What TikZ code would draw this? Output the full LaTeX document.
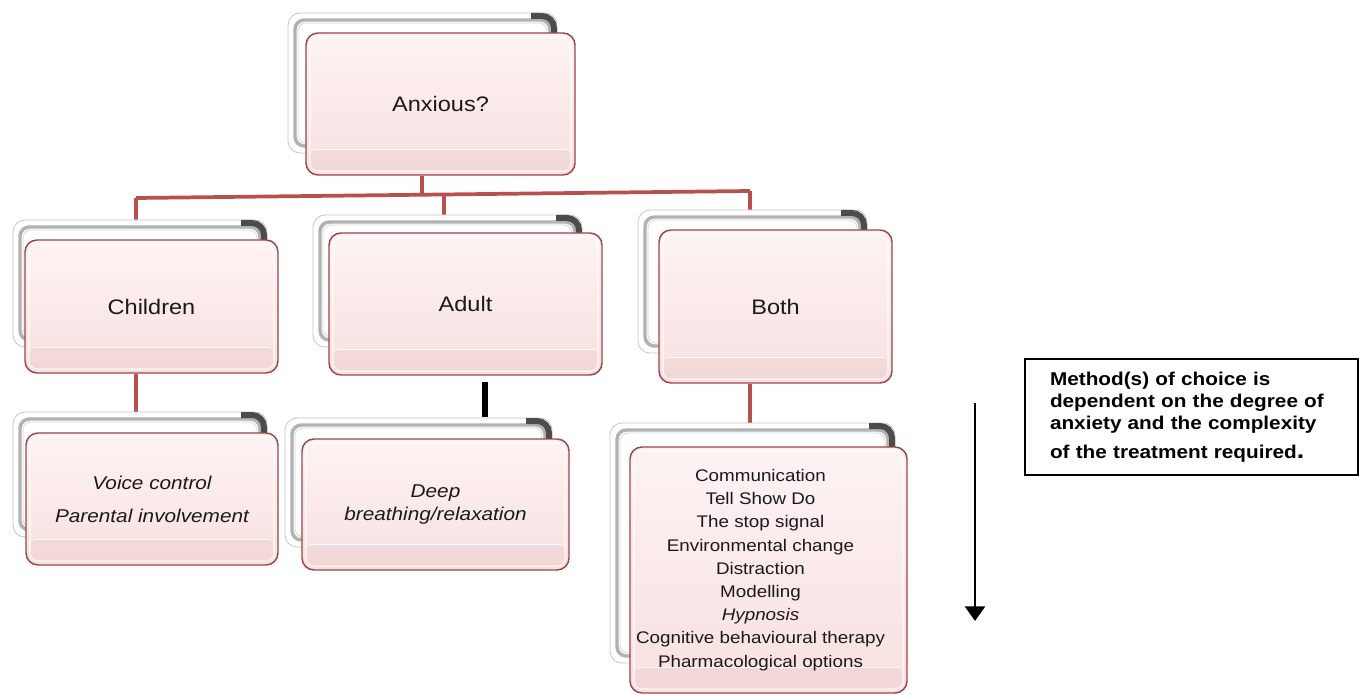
\documentclass[tikz,border=0pt]{standalone}
\usepackage{fontspec}
\setmainfont{Liberation Sans}[FakeStretch=1.12]
\usetikzlibrary{arrows.meta}
\pgfdeclarelayer{paper}
\pgfdeclarelayer{links}
\pgfsetlayers{paper,links,main}

\definecolor{cardtop}{HTML}{FDF3F3}
\definecolor{cardbot}{HTML}{F8E0E0}
\definecolor{cardedge}{HTML}{9E4446}
\definecolor{linkred}{HTML}{B7514E}
\definecolor{ink}{HTML}{1A1A1A}

\newcommand\labelfont{\fontsize{15.75pt}{18pt}\selectfont}
\newcommand\voicefont{\fontsize{13.9pt}{24.75pt}\selectfont\itshape}
\newcommand\deepfont{\fontsize{13.9pt}{17.25pt}\selectfont\itshape}
\newcommand\listfont{\fontsize{12.6pt}{17.4pt}\selectfont}
\newcommand\notefont{\fontsize{13.9pt}{16.5pt}\selectfont\bfseries}

% grey stacked frame drawn behind each card (coordinates in px units)
\newcommand\backframe[4]{%
  \filldraw[fill=white, draw=gray!45, line width=0.6pt, rounded corners=9pt]
    (#1,#2) rectangle (#3,#4);
  \draw[gray!60, line width=2.6pt, rounded corners=7pt]
    ({#1+7},{#2+7}) rectangle ({#3-7},{#4-7});
  \draw[gray!30, line width=0.6pt, rounded corners=6pt]
    ({#1+10},{#2+10}) rectangle ({#3-10},{#4-10});
  \begin{scope}
    \clip ({#3-26},{#2-3}) rectangle ({#3+3},{#2+34});
    \draw[black!70, line width=4.5pt, rounded corners=9pt]
      ({#1+3},{#2+3}) rectangle ({#3-3},{#4-3});
  \end{scope}
}

\tikzset{
  card/.style={rectangle, rounded corners=9pt, draw=cardedge, line width=1.1pt,
    top color=cardtop, bottom color=cardbot, inner sep=0pt, align=center,
    text=ink, font=\labelfont,
    path picture={
      \fill[cardedge, opacity=0.06, rounded corners=6pt]
        ([shift={(3pt,3pt)}]path picture bounding box.south west) rectangle
        ([shift={(-3pt,19pt)}]path picture bounding box.south east);
      \draw[white, opacity=0.8, line width=0.8pt, rounded corners=6pt]
        ([shift={(3pt,3pt)}]path picture bounding box.south west) rectangle
        ([shift={(-3pt,-3pt)}]path picture bounding box.north east);
      \draw[white, opacity=0.9, line width=0.8pt]
        ([shift={(6pt,19pt)}]path picture bounding box.south west) --
        ([shift={(-6pt,19pt)}]path picture bounding box.south east);
    }},
  link/.style={linkred, line width=2.8pt},
  notebox/.style={rectangle, draw=black, line width=1.1pt, font=\notefont,
    align=left, text=black},
}

\begin{document}
\begin{tikzpicture}[x=0.75pt, y=-0.75pt]
\begin{pgfonlayer}{paper}
  \fill[white] (0,0) rectangle (1360,695);
\end{pgfonlayer}
\useasboundingbox (0,0) rectangle (1360,695);

% frames behind the cards
\backframe{288}{13}{557}{153}
\backframe{13}{220}{267}{347}
\backframe{313}{215}{582}{347}
\backframe{638}{210}{867}{353}
\backframe{13}{412}{267}{537}
\backframe{285}{418}{552}{547}
\backframe{610}{423}{895}{663}

% cards
\node[card, minimum width=201.75pt, minimum height=106.5pt] (anx) at (440.5,104) {Anxious?};
\node[card, minimum width=189.75pt, minimum height=99.75pt] (chi) at (151.5,306.5) {Children};
\node[card, minimum width=204.75pt, minimum height=106.5pt] (adu) at (465.5,304) {Adult};
\node[card, minimum width=174.75pt, minimum height=114.75pt] (bot) at (775.5,306.5) {Both};
\node[card, minimum width=189pt, minimum height=99pt, font=\voicefont] (voice) at (152,499)
  {Voice control\\Parental involvement};
\node[card, minimum width=200.25pt, minimum height=98.25pt, font=\deepfont] (deep) at (435.5,504.5)
  {\raisebox{-7pt}{\parbox{190pt}{\centering Deep\\breathing/relaxation}}};
\node[card, minimum width=207.75pt, minimum height=184.5pt, font=\listfont] (list) at (768.5,570)
  {\hspace*{-12pt}\parbox{200pt}{\centering Communication\\Tell Show Do\\The stop signal\\
   Environmental change\\Distraction\\Modelling\\\textit{Hypnosis}\\
   Cognitive behavioural therapy\\Pharmacological options}};

% tree connectors, behind the cards
\begin{pgfonlayer}{links}
  \coordinate (barL) at (136,198);
  \coordinate (barR) at (750,191);
  \coordinate (tap) at (422,195);
  \coordinate (tapA) at (444,195);
  \draw[link] (barL) -- (barR);
  \draw[link] (anx.south -| tap) -- (tap);
  \draw[link] (barL) -- (barL |- chi.north);
  \draw[link] (tapA) -- (tapA |- adu.north);
  \draw[link] (barR) -- (barR |- bot.north);
  \draw[link] (chi.south -| barL) -- (voice.north -| barL);
  \draw[link] (bot.south -| barR) -- (list.north -| barR);
\end{pgfonlayer}

% short black bar under the adult card
\coordinate (bTop) at (485,382);
\coordinate (bEnd) at (485,417);
\draw[black, line width=4.5pt] (bTop) -- (bEnd);

% arrow beside the methods list
\coordinate (arTop) at (975,403);
\coordinate (arEnd) at (975,621);
\draw[black, line width=1.9pt, -{Triangle[width=15pt,length=11pt]}] (arTop) -- (arEnd);

% note
\node[notebox, text width=212.25pt, inner xsep=18.75pt, inner ysep=0pt,
      minimum height=87pt] (note) at (1191.5,417)
  {Method(s) of choice is\\dependent on the degree of\\anxiety and the complexity\\[5pt]
   of the treatment required{\fontsize{18pt}{18pt}\selectfont.}};
\end{tikzpicture}
\end{document}
